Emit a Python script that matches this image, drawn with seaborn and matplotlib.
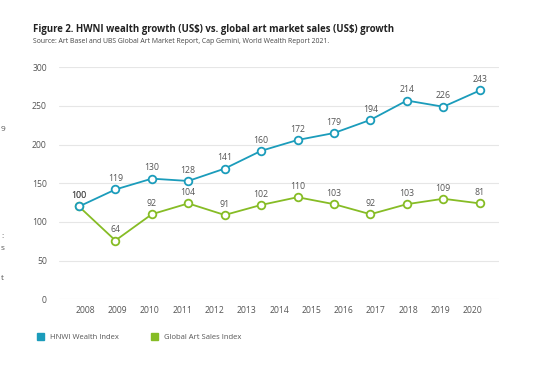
import matplotlib

matplotlib.use("Agg")
import matplotlib.pyplot as plt
import pandas as pd
import seaborn as sns
from matplotlib.patches import Patch

# Years shown on the x axis (13 labels, points sit between them in the original)
years = [2008, 2009, 2010, 2011, 2012, 2013, 2014, 2015, 2016, 2017, 2018, 2019, 2020]

# Plotted heights (y scale)
hnwi_plot = [120, 142, 156, 153, 169, 192, 206, 215, 232, 257, 249, 270]
art_plot = [120, 76, 110, 124, 109, 122, 132, 123, 110, 123, 130, 124]

# Data labels printed over the points
hnwi_labels = [100, 119, 130, 128, 141, 160, 172, 179, 194, 214, 226, 243]
art_labels = [100, 64, 92, 104, 91, 102, 110, 103, 92, 103, 109, 81]

BLUE = "#1b9cbb"
GREEN = "#86bc25"
GREY = "#555555"

sns.set_theme(style="white")
plt.rcParams["font.family"] = ["Open Sans", "DejaVu Sans"]

df = pd.DataFrame({
    "idx": range(len(hnwi_plot)),
    "hnwi": hnwi_plot,
    "art": art_plot,
})

fig = plt.figure(figsize=(5.4, 3.71), dpi=100)
ax = fig.add_axes([0.1098, 0.1933, 0.8137, 0.6253])

for col, color, labels in [("art", GREEN, art_labels), ("hnwi", BLUE, hnwi_labels)]:
    sns.lineplot(
        data=df, x="idx", y=col, ax=ax, color=color, lw=1.3,
        marker="o", markersize=5.5, markerfacecolor="white",
        markeredgecolor=color, markeredgewidth=1.3, clip_on=False,
    )
    for i, (v, lab) in enumerate(zip(df[col], labels)):
        ax.annotate(str(lab), (i, v), xytext=(0, 4.5), textcoords="offset points",
                    ha="center", va="bottom", fontsize=6.3, color=GREY)

ax.set_xlim(-0.54, 11.52)
ax.set_ylim(0, 300)
ax.set_yticks(range(0, 301, 50))
ax.set_xticks([])
ax.set_xlabel("")
ax.set_ylabel("")
ax.grid(axis="y", color="#e6e6e6", lw=0.8)
ax.tick_params(axis="y", labelsize=6.2, colors=GREY, length=0, pad=9)
for s in ax.spines.values():
    s.set_visible(False)

# year labels on a separate category scale
ax2 = ax.twiny()
ax2.set_xlim(-0.8, 12.8)
ax2.set_xticks(range(len(years)))
ax2.set_xticklabels([str(y) for y in years])
ax2.xaxis.set_ticks_position("bottom")
ax2.tick_params(axis="x", labelsize=6.2, colors=GREY, length=0, pad=5)
for s in ax2.spines.values():
    s.set_visible(False)

fig.text(0.061, 0.921,
         r"Figure 2. HWNI wealth growth (US\$) vs. global art market sales (US\$) growth",
         fontsize=6.9, fontweight="bold", color="#222222", va="center")
fig.text(0.061, 0.887,
         "Source: Art Basel and UBS Global Art Market Report, Cap Gemini, World Wealth Report 2021.",
         fontsize=4.95, color="#444444", va="center")

# fragments of the neighbouring column at the left edge
for y, ch in [(0.65, "9"), (0.362, ":"), (0.33, "s"), (0.25, "t")]:
    fig.text(0.002, y, ch, fontsize=6, color=GREY, va="center")

handles = [Patch(color=BLUE, label="HNWI Wealth Index"),
           Patch(color=GREEN, label="Global Art Sales Index")]
fig.legend(handles=handles, loc="center left", bbox_to_anchor=(0.055, 0.092),
           ncol=2, frameon=False, fontsize=5.5, labelcolor=GREY,
           handlelength=1.0, handleheight=1.0, handletextpad=0.7, columnspacing=4.2)

fig.savefig("out.png", dpi=100)
